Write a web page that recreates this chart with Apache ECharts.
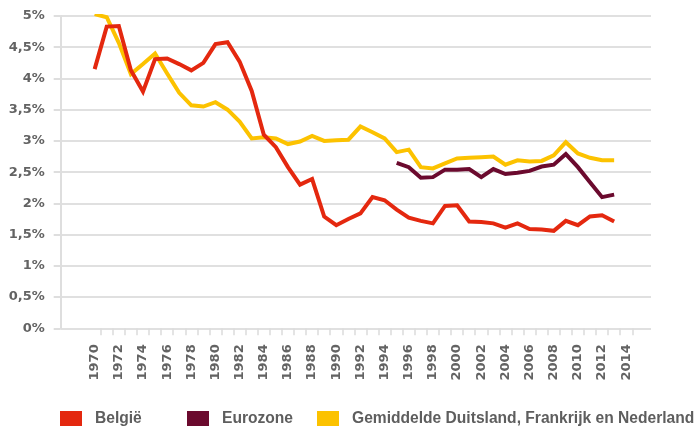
<!DOCTYPE html>
<html>
<head>
<meta charset="utf-8">
<script src="https://cdn.jsdelivr.net/npm/echarts@6/dist/echarts.min.js"></script>
<style>html,body{margin:0;padding:0;background:#fff}#c{width:695px;height:426px}</style>
</head>
<body>
<div id="c"></div>
<script>
const years = [1970,1971,1972,1973,1974,1975,1976,1977,1978,1979,1980,1981,1982,1983,1984,1985,1986,1987,1988,1989,1990,1991,1992,1993,1994,1995,1996,1997,1998,1999,2000,2001,2002,2003,2004,2005,2006,2007,2008,2009,2010,2011,2012,2013];
const belgie = [4.15,4.83,4.84,4.13,3.79,4.31,4.32,4.23,4.13,4.25,4.55,4.58,4.27,3.80,3.10,2.90,2.58,2.30,2.39,1.79,1.65,1.75,1.84,2.10,2.05,1.90,1.77,1.72,1.68,1.96,1.97,1.71,1.70,1.68,1.61,1.68,1.59,1.58,1.56,1.72,1.65,1.79,1.81,1.71];
const gemiddelde = [5.03,4.98,4.57,4.07,4.23,4.40,4.08,3.77,3.57,3.55,3.62,3.50,3.31,3.04,3.06,3.04,2.95,2.99,3.08,3.00,3.01,3.02,3.23,3.14,3.04,2.82,2.86,2.58,2.56,2.64,2.72,2.73,2.74,2.75,2.62,2.69,2.67,2.68,2.77,2.98,2.80,2.73,2.69,2.69];
const euroYears = [1995,1996,1997,1998,1999,2000,2001,2002,2003,2004,2005,2006,2007,2008,2009,2010,2011,2012,2013];
const eurozone = [2.65,2.58,2.41,2.42,2.54,2.54,2.55,2.42,2.55,2.47,2.49,2.52,2.59,2.62,2.79,2.58,2.34,2.10,2.14];
const xLabels = [1970,1972,1974,1976,1978,1980,1982,1984,1986,1988,1990,1992,1994,1996,1998,2000,2002,2004,2006,2008,2010,2012,2014];
const xTicks = [1970.5,1971.5,1972.5,1973.5,1974.5,1975.5,1976.5,1977.5,1978.5,1979.5,1980.5,1981.5,1982.5,1983.5,1984.5,1985.5,1986.5,1987.5,1988.5,1989.5,1990.5,1991.5,1992.5,1993.5,1994.5,1995.5,1996.5,1997.5,1998.5,1999.5,2000.5,2001.5,2002.5,2003.5,2004.5,2005.5,2006.5,2007.5,2008.5,2009.5,2010.5,2011.5,2012.5,2013.5,2014.5];

const names = ['België','Eurozone','Gemiddelde Duitsland, Frankrijk en Nederland'];
const colors = ['#e4280f','#6b0a2e','#fcc200'];

const chart = echarts.init(document.getElementById('c'), null, {renderer:'canvas'});
const labelFont = {fontFamily:'DejaVu Sans', fontWeight:'bold', fontSize:13, color:'#636363'};
const legendBase = (name, left) => ({
  data:[name], left:left, top:411, padding:0, icon:'rect', itemWidth:22, itemHeight:16, itemGap:0,
  textStyle:{fontFamily:'Liberation Sans', fontWeight:'bold', fontSize:15.6, color:'#5e5e5e', padding:[0,0,0,8]},
  selectedMode:false
});
chart.setOption({
  animation:false,
  color:colors,
  grid:{left:60.7, right:44, top:16, bottom:97.7, containLabel:false},
  legend:[legendBase(names[0],60), legendBase(names[1],187), legendBase(names[2],317)],
  xAxis:{
    type:'value', min:1967.19, max:2016.05,
    axisLine:{show:false},
    splitLine:{show:false},
    axisTick:{show:true, customValues:xTicks, length:7, lineStyle:{color:'#dcdcdc', width:1.5}},
    axisLabel:Object.assign({customValues:xLabels, rotate:90, margin:16, formatter:v=>String(v)}, labelFont)
  },
  yAxis:{
    type:'value', min:0, max:5, interval:0.5,
    axisLine:{show:true, lineStyle:{color:'#dedede', width:2}},
    axisTick:{show:true, length:7, lineStyle:{color:'#dedede', width:2}},
    splitLine:{show:true, lineStyle:{color:'#e0e0e0', width:2}},
    axisLabel:Object.assign({margin:16, formatter:v=>String(v).replace('.',',')+'%'}, labelFont)
  },
  series:[
    {name:names[2], type:'line', data:years.map((y,i)=>[y,gemiddelde[i]]), symbol:'none', color:colors[2], lineStyle:{width:4, color:colors[2], join:'miter'}, z:2},
    {name:names[1], type:'line', data:euroYears.map((y,i)=>[y,eurozone[i]]), symbol:'none', color:colors[1], lineStyle:{width:4, color:colors[1], join:'miter'}, z:3},
    {name:names[0], type:'line', data:years.map((y,i)=>[y,belgie[i]]), symbol:'none', color:colors[0], lineStyle:{width:4, color:colors[0], join:'miter'}, z:4}
  ]
});
</script>
</body>
</html>
